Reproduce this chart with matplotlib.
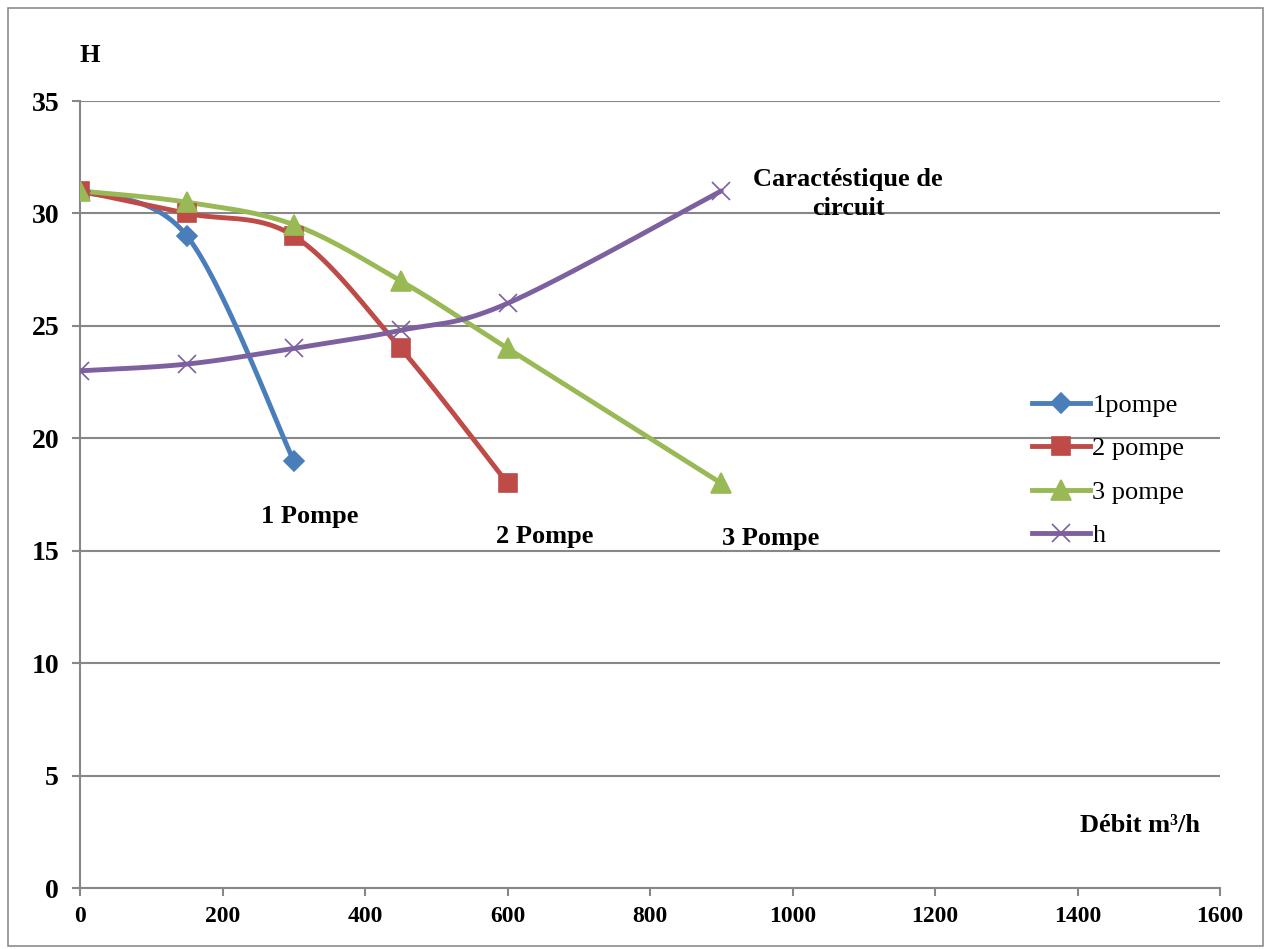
import matplotlib.pyplot as plt
from matplotlib.patches import Rectangle
import numpy as np

# data
debit_1 = [0, 150, 300]
h_1 = [31, 29, 19]
debit_2 = [0, 150, 300, 450, 600]
h_2 = [31, 30, 29, 24, 18]
debit_3 = [0, 150, 300, 450, 600, 900]
h_3 = [31, 30.5, 29.5, 27, 24, 18]
debit_c = [0, 150, 300, 450, 600, 900]
h_c = [23, 23.3, 24, 24.8, 26, 31]

x_ticks = [0, 200, 400, 600, 800, 1000, 1200, 1400, 1600]
y_ticks = [0, 5, 10, 15, 20, 25, 30, 35]


def smooth(xs, ys, n=40):
    # excel-like smoothed line (bezier with catmull-rom control points)
    p = np.column_stack([xs, ys]).astype(float)
    ext = np.vstack([p[0], p, p[-1]])
    out = [p[:1]]
    t = np.linspace(0, 1, n)[1:, None]
    for i in range(len(p) - 1):
        p0, p1, p2, p3 = ext[i], ext[i + 1], ext[i + 2], ext[i + 3]
        c1 = p1 + (p2 - p0) / 6
        c2 = p2 - (p3 - p1) / 6
        seg = ((1 - t) ** 3) * p1 + 3 * ((1 - t) ** 2) * t * c1 + 3 * (1 - t) * t ** 2 * c2 + t ** 3 * p2
        out.append(seg)
    s = np.vstack(out)
    return s[:, 0], s[:, 1]


plt.rcParams['font.family'] = ['Liberation Serif', 'DejaVu Serif']

fig = plt.figure(figsize=(12.66, 9.49), dpi=100)
fig.patches.append(Rectangle((8 / 1266, 3 / 949), 1255 / 1266, 938 / 949, transform=fig.transFigure,
                             fill=False, edgecolor='#8c8c8c', lw=1.2))
ax = fig.add_axes([80 / 1266, 1 - 888 / 949, 1140 / 1266, 787 / 949])

series = [
    (debit_1, h_1, '#4a7ebb', 'D', 10, '1pompe'),
    (debit_2, h_2, '#be4b48', 's', 13, '2 pompe'),
    (debit_3, h_3, '#98b954', '^', 15, '3 pompe'),
    (debit_c, h_c, '#7d60a0', 'x', 13, 'h'),
]
for xs, ys, col, mk, ms, lab in series:
    sx, sy = smooth(xs, ys)
    ax.plot(sx, sy, color=col, lw=3.5, solid_capstyle='round', zorder=3)
    ax.plot(xs, ys, ls='none', marker=mk, ms=ms, color=col, mew=1.2, zorder=4)
    ax.plot([], [], color=col, lw=3.5, marker=mk, ms=ms, mew=1.2, label=lab)

ax.set_xlim(0, 1600)
ax.set_ylim(0, 35)
ax.set_xticks(x_ticks)
ax.set_yticks(y_ticks)
ax.grid(axis='y', color='#878787', lw=1.5)
ax.set_axisbelow(True)
for s in ['top', 'right']:
    ax.spines[s].set_visible(False)
for s in ['left', 'bottom']:
    ax.spines[s].set_color('#878787')
    ax.spines[s].set_linewidth(1.5)
ax.tick_params(axis='both', color='#878787', width=1.5, length=6, direction='out')
ax.tick_params(axis='y', labelsize=20, pad=9)
ax.tick_params(axis='x', labelsize=17, pad=7)
for lbl in ax.get_xticklabels() + ax.get_yticklabels():
    lbl.set_fontweight('bold')

leg = ax.legend(loc='upper left', bbox_to_anchor=(928 / 1140, (888 - 370) / 787), frameon=False,
                fontsize=19, handlelength=2.2, handletextpad=0.1, labelspacing=0.75)

txt = dict(fontsize=19, fontweight='bold', transform=fig.transFigure)
fig.text(90 / 1266, 1 - 55 / 949, 'H', ha='center', va='center', **txt)
fig.text(848 / 1266, 1 - 194 / 949, 'Caractéstique de\ncircuit', ha='center', va='center',
         linespacing=1.3, **txt)
fig.text(310 / 1266, 1 - 517 / 949, '1 Pompe', ha='center', va='center', **txt)
fig.text(545 / 1266, 1 - 536 / 949, '2 Pompe', ha='center', va='center', **txt)
fig.text(771 / 1266, 1 - 539 / 949, '3 Pompe', ha='center', va='center', **txt)
fig.text(1140 / 1266, 1 - 825 / 949, 'Débit m³/h', ha='center', va='center', **txt)

fig.savefig('out.png', dpi=100)
